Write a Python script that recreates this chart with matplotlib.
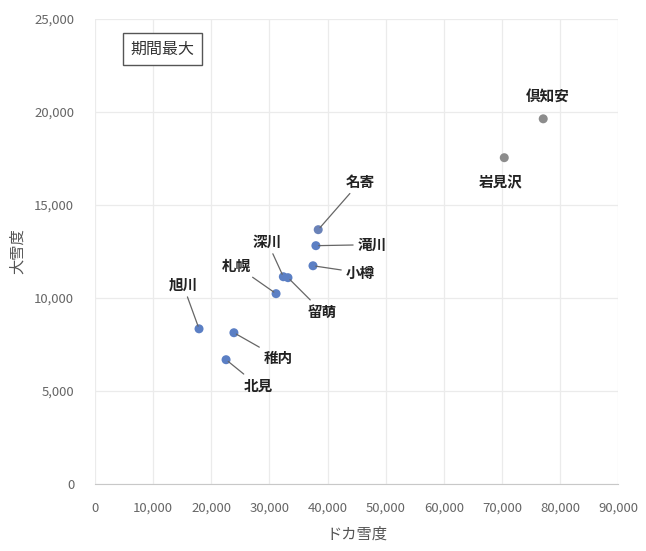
import matplotlib
matplotlib.use("Agg")
import matplotlib.pyplot as plt

plt.rcParams['font.family'] = ['Noto Sans CJK JP', 'DejaVu Sans']

names = ["倶知安", "岩見沢", "名寄", "滝川", "小樽", "深川", "留萌", "札幌", "旭川", "稚内", "北見"]
dokayuki = [77100, 70400, 38400, 38000, 37500, 32400, 33200, 31150, 17900, 23900, 22550]
daisetsu = [19620, 17530, 13660, 12800, 11720, 11130, 11080, 10220, 8330, 8120, 6670]
xticks = [0, 10000, 20000, 30000, 40000, 50000, 60000, 70000, 80000, 90000]
yticks = [0, 5000, 10000, 15000, 20000, 25000]

# label offsets in pixels (dx, dy), and whether a leader line is drawn
offsets = {
    "倶知安": (5, 22, False),
    "岩見沢": (-4, -25, False),
    "名寄": (42, 48, True),
    "滝川": (56, 1, True),
    "小樽": (47, -7, True),
    "深川": (-16, 35, True),
    "留萌": (34, -34, True),
    "札幌": (-40, 28, True),
    "旭川": (-16, 44, True),
    "稚内": (44, -25, True),
    "北見": (32, -26, True),
}

fig = plt.figure(figsize=(6.46, 5.51), dpi=100)
ax = fig.add_axes([0.147, 0.122, 0.81, 0.844])

colors = ["#8c8c8c" if n in ("倶知安", "岩見沢") else "#6a82b8" if n == "名寄" else "#5b7fc4" for n in names]
ax.scatter(dokayuki, daisetsu, s=42, c=colors, zorder=3, linewidths=0)

for n, x, y in zip(names, dokayuki, daisetsu):
    dx, dy, lead = offsets[n]
    ap = dict(arrowstyle="-", color="#666666", lw=0.9, shrinkA=1, shrinkB=2) if lead else None
    ax.annotate(n, (x, y), xytext=(dx, dy), textcoords="offset pixels",
                ha="center", va="center", fontsize=10.5, fontweight="bold",
                color="#222222", arrowprops=ap, zorder=4)

ax.set_xlim(0, 90000)
ax.set_ylim(0, 25000)
ax.set_xticks(xticks)
ax.set_yticks(yticks)
ax.set_xticklabels([f"{v:,}" for v in xticks])
ax.set_yticklabels([f"{v:,}" for v in yticks])
ax.tick_params(length=0, labelsize=9.5, labelcolor="#666666")
ax.tick_params(axis="x", pad=13)
ax.tick_params(axis="y", pad=15)
ax.grid(True, color="#ebebeb", lw=0.9)
ax.set_axisbelow(True)
for s in ["top", "right", "left"]:
    ax.spines[s].set_visible(False)
ax.spines["bottom"].set_color("#c8c8c8")

ax.set_xlabel("ドカ雪度", fontsize=11, color="#555555", labelpad=8)
ax.set_ylabel("大雪度", fontsize=11, color="#555555", labelpad=6)

ax.text(0.068, 0.935, "期間最大", transform=ax.transAxes, fontsize=11.5, color="#333333",
        va="center", ha="left",
        bbox=dict(boxstyle="square,pad=0.45", fc="white", ec="#555555", lw=1))

fig.savefig("out.png", dpi=100)
